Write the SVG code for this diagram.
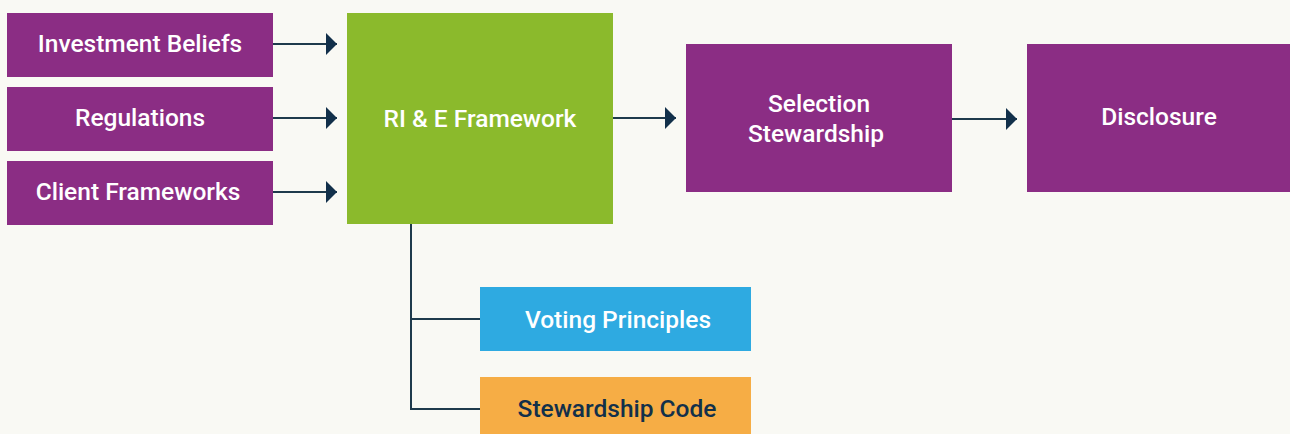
<svg xmlns="http://www.w3.org/2000/svg" width="1290" height="434" viewBox="0 0 1290 434">
<defs>
<marker id="arr" markerWidth="12" markerHeight="22" refX="11" refY="11" orient="auto" markerUnits="userSpaceOnUse">
<path d="M0,0 L11,11 L0,22 Z" fill="#12304a"/>
</marker>
<style>
.t{font-family:Roboto,"Liberation Sans",sans-serif;font-size:24.5px;font-weight:500;fill:#ffffff;text-anchor:middle}
.dk{fill:#12304a}
.p{fill:#8b2d84}
.ln{stroke:#1e3a4c;stroke-width:2;fill:none}
</style>
</defs>
<rect width="1290" height="434" fill="#f9f9f4"/>
<g id="connectors">
<line class="ln" x1="273" y1="44" x2="337" y2="44" marker-end="url(#arr)"/>
<line class="ln" x1="273" y1="118" x2="337" y2="118" marker-end="url(#arr)"/>
<line class="ln" x1="273" y1="192" x2="337" y2="192" marker-end="url(#arr)"/>
<line class="ln" x1="613" y1="118" x2="676" y2="118" marker-end="url(#arr)"/>
<line class="ln" x1="952" y1="119" x2="1017" y2="119" marker-end="url(#arr)"/>
<path class="ln" d="M411,224 V409 H480 M411,319 H480"/>
</g>
<g id="investment-beliefs"><rect class="p" x="7" y="13" width="266" height="64"/><text class="t" x="140" y="52">Investment Beliefs</text></g>
<g id="regulations"><rect class="p" x="7" y="87" width="266" height="64"/><text class="t" x="140" y="126">Regulations</text></g>
<g id="client-frameworks"><rect class="p" x="7" y="161" width="266" height="64"/><text class="t" x="138" y="200">Client Frameworks</text></g>
<g id="ri-e-framework"><rect x="347" y="13" width="266" height="211" fill="#8bba2c"/><text class="t" x="480" y="127">RI &amp; E Framework</text></g>
<g id="selection-stewardship"><rect class="p" x="686" y="44" width="266" height="148"/><text class="t" x="819" y="112">Selection</text><text class="t" x="816" y="142">Stewardship</text></g>
<g id="disclosure"><rect class="p" x="1027" y="44" width="263" height="148"/><text class="t" x="1159" y="125">Disclosure</text></g>
<g id="voting-principles"><rect x="480" y="287" width="271" height="64" fill="#2eaae1"/><text class="t" x="618" y="328">Voting Principles</text></g>
<g id="stewardship-code"><rect x="480" y="377" width="271" height="64" fill="#f6ad45"/><text class="t dk" x="617" y="417">Stewardship Code</text></g>
</svg>
